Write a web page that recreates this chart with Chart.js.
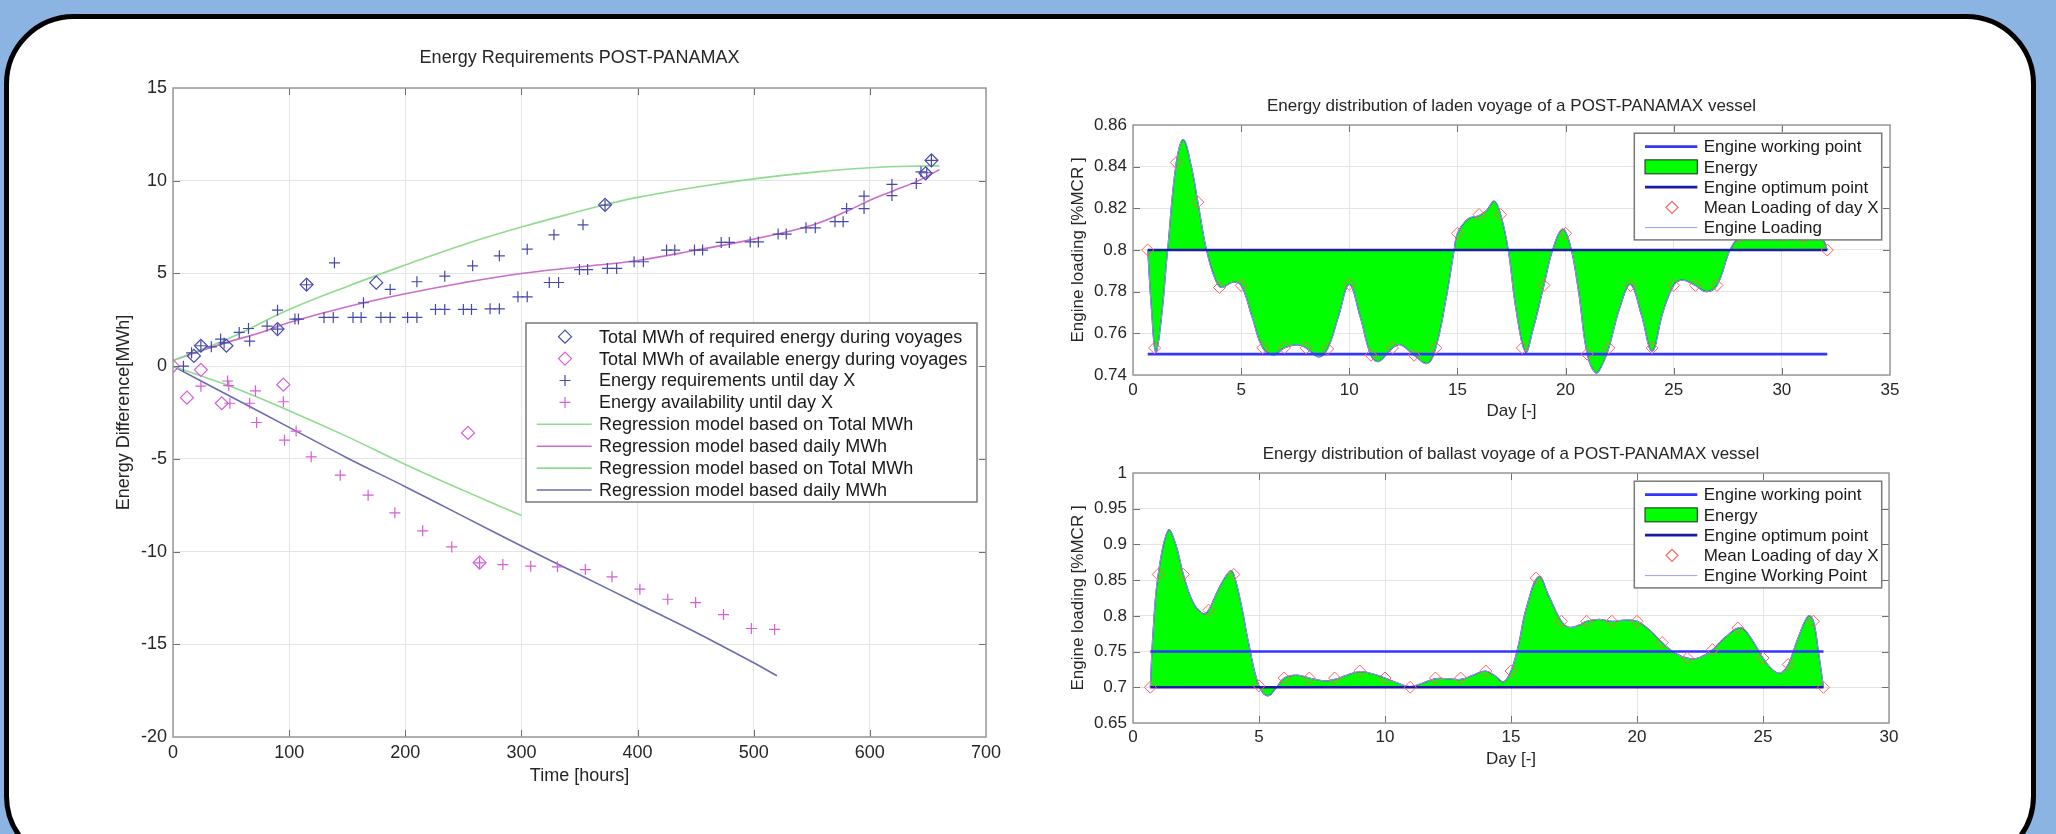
<!DOCTYPE html>
<html>
<head>
<meta charset="utf-8">
<script src="https://cdn.jsdelivr.net/npm/chart.js@4.4.1/dist/chart.umd.min.js"></script>
<style>
html, body { margin: 0; padding: 0; }
body { width: 2056px; height: 834px; background: #8cb4e2; overflow: hidden; position: relative; }
#panel { position: absolute; left: 4px; top: 14px; width: 2032px; height: 852px; box-sizing: border-box;
         border: 5px solid #000; border-radius: 70px; background: #fff; }
canvas { position: absolute; }
#energy { left: 60px; top: 30px; }
#laden { left: 1020px; top: 80px; }
#ballast { left: 1020px; top: 430px; }
</style>
</head>
<body>
<div id="panel"></div>
<canvas id="energy" width="1039" height="790"></canvas>
<canvas id="laden" width="930" height="350"></canvas>
<canvas id="ballast" width="930" height="340"></canvas>
<script>
// ---------- left chart: Energy Requirements POST-PANAMAX ----------
var reqTotalHours = [18, 24, 46, 90, 115, 175, 372, 648, 653];
var reqTotalMWh   = [0.55, 1.1, 1.1, 2.0, 4.4, 4.5, 8.7, 10.4, 11.1];

var availTotalHours = [0, 12, 24, 42, 95, 254, 264];
var availTotalMWh   = [0, -1.7, -0.2, -2.0, -1.0, -3.6, -10.6];

var reqDailyHours = [9, 16, 24, 33, 41, 44, 57, 65, 66, 81, 90, 90, 105, 108, 115, 130, 138, 139, 155, 162, 164,
  179, 187, 187, 202, 210, 210, 226, 234, 234, 250, 257, 258, 273, 281, 281, 297, 305, 305, 324, 328, 332,
  350, 353, 357, 372, 374, 382, 397, 405, 425, 432, 449, 456, 472, 479, 497, 504, 521, 528, 545, 553,
  570, 577, 580, 595, 595, 619, 619, 640, 644, 649, 653];
var reqDailyMWh = [0.0, 0.72, 1.1, 1.04, 1.46, 1.25, 1.82, 2.03, 1.35, 2.16, 3.02, 2.0, 2.54, 2.54, 4.39, 2.63, 2.63, 5.57, 2.63, 2.63, 3.42,
  2.63, 2.63, 4.14, 2.63, 2.63, 4.55, 3.06, 3.06, 4.85, 3.06, 3.06, 5.41, 3.09, 3.09, 5.95, 3.74, 3.74, 6.31, 4.51, 7.08, 4.51,
  5.21, 7.62, 5.21, 8.68, 5.27, 5.27, 5.63, 5.63, 6.26, 6.26, 6.26, 6.26, 6.67, 6.67, 6.7, 6.7, 7.12, 7.12, 7.46, 7.46,
  7.79, 7.79, 8.5, 8.5, 9.17, 9.2, 9.8, 9.85, 10.48, 10.43, 11.1];

var availDailyHours = [24, 47, 48, 49, 66, 71, 72, 95, 96, 106, 119, 144, 168, 191, 215, 240, 264, 284, 308,
  331, 355, 378, 402, 426, 450, 474, 498, 518];
var availDailyMWh = [-1.08, -0.8, -1.05, -2.0, -2.0, -1.33, -3.04, -1.92, -3.99, -3.5, -4.89, -5.88, -6.96, -7.91,
  -8.88, -9.75, -10.61, -10.7, -10.79, -10.82, -10.97, -11.36, -12.03, -12.57, -12.75, -13.4, -14.15, -14.2];

var regTotalUpHours = [0, 50, 100, 150, 200, 250, 300, 350, 372, 400, 450, 500, 550, 600, 650, 660];
var regTotalUpMWh   = [0.3, 1.55, 3.05, 4.3, 5.45, 6.55, 7.5, 8.35, 8.7, 9.1, 9.65, 10.1, 10.45, 10.7, 10.8, 10.8];

var regDailyUpHours = [0, 25, 50, 75, 100, 150, 200, 250, 300, 350, 400, 450, 500, 550, 580, 600, 620, 640, 660];
var regDailyUpMWh   = [0.3, 0.85, 1.35, 1.8, 2.35, 3.2, 3.9, 4.5, 5.0, 5.35, 5.7, 6.25, 6.85, 7.6, 8.35, 8.95, 9.45, 9.95, 10.6];

var regTotalDownHours = [0, 25, 50, 100, 150, 200, 250, 300];
var regTotalDownMWh   = [0, -0.55, -1.1, -2.4, -3.8, -5.3, -6.7, -8.05];

var regDailyDownHours = [0, 50, 100, 150, 200, 250, 300, 350, 400, 450, 500, 520];
var regDailyDownMWh   = [0, -1.65, -3.3, -4.95, -6.5, -8.1, -9.7, -11.25, -12.8, -14.35, -16.0, -16.7];

var energyXTicks = [0, 100, 200, 300, 400, 500, 600, 700];
var energyYTicks = [-20, -15, -10, -5, 0, 5, 10, 15];

// ---------- top right: laden voyage ----------
var ladenDays = [0.68, 1, 2, 3, 4, 5, 6, 7, 8, 9, 10, 11, 12, 13, 14, 15, 16, 17, 18, 19, 20,
  21, 22, 23, 24, 25, 26, 27, 28, 29, 30, 31, 32.1];
var ladenMean = [0.800, 0.753, 0.842, 0.823, 0.782, 0.783, 0.753, 0.753, 0.753, 0.7525, 0.7835, 0.7495, 0.753,
  0.7495, 0.753, 0.808, 0.817, 0.817, 0.753, 0.783, 0.808, 0.750, 0.753, 0.783, 0.753, 0.783, 0.783, 0.783,
  0.806, 0.810, 0.807, 0.806, 0.800];
var ladenCurveDays = [0.68, 0.85, 1.05, 1.3, 1.6, 2.0, 2.33, 2.7, 3.0, 3.4, 3.8, 4.1, 4.6, 5.0, 5.5, 6.0, 6.5,
  7.0, 7.6, 8.0, 8.6, 9.0, 9.5, 10.0, 10.5, 11.0, 11.35, 12.0, 12.35, 13.0, 13.6, 14.0, 14.5, 14.85, 15.0,
  15.5, 16.0, 16.35, 16.7, 17.0, 17.35, 17.7, 18.15, 18.5, 19.0, 19.4, 19.85, 20.2, 20.6, 21.0, 21.4, 21.7,
  22.0, 22.5, 23.0, 23.5, 24.0, 24.5, 25.0, 25.4, 26.0, 26.5, 27.0, 27.6, 28.0, 28.5, 29.0, 29.5, 30.0,
  30.5, 31.0, 31.6, 31.9, 32.1];
var ladenCurve = [0.800, 0.772, 0.751, 0.766, 0.800, 0.842, 0.853, 0.840, 0.823, 0.800, 0.786, 0.782, 0.7845,
  0.783, 0.768, 0.753, 0.7497, 0.753, 0.7545, 0.753, 0.7487, 0.7526, 0.768, 0.7835, 0.768, 0.7495, 0.7465,
  0.753, 0.7545, 0.7495, 0.7455, 0.753, 0.778, 0.800, 0.808, 0.815, 0.8165, 0.819, 0.8235, 0.817, 0.800,
  0.772, 0.751, 0.762, 0.783, 0.800, 0.810, 0.803, 0.780, 0.750, 0.741, 0.745, 0.753, 0.772, 0.7835, 0.769,
  0.7515, 0.770, 0.783, 0.7855, 0.783, 0.780, 0.783, 0.800, 0.806, 0.809, 0.810, 0.809, 0.807, 0.806, 0.806,
  0.806, 0.805, 0.800];
var ladenWorking = 0.75;
var ladenOptimum = 0.80;
var ladenXTicks = [0, 5, 10, 15, 20, 25, 30, 35];
var ladenYTicks = [0.74, 0.76, 0.78, 0.80, 0.82, 0.84, 0.86];

// ---------- bottom right: ballast voyage ----------
var ballastDays = [0.686, 1, 2, 3, 4, 5, 6, 7, 8, 9, 10, 11, 12, 13, 14, 15, 16, 17, 18, 19, 20,
  21, 22, 23, 24, 25, 26, 27, 27.4];
var ballastMean = [0.700, 0.858, 0.858, 0.808, 0.858, 0.702, 0.713, 0.713, 0.713, 0.7228, 0.713, 0.700, 0.713,
  0.713, 0.7228, 0.7228, 0.853, 0.7924, 0.7924, 0.7924, 0.7924, 0.7626, 0.741, 0.7527, 0.783, 0.741, 0.7318,
  0.7924, 0.700];
var ballastCurveDays = [0.686, 0.8, 1.0, 1.4, 1.7, 2.0, 2.4, 2.8, 3.0, 3.4, 3.85, 4.0, 4.3, 4.6, 5.0, 5.35, 5.7,
  6.0, 6.5, 7.0, 7.6, 8.0, 8.5, 9.0, 9.5, 10.0, 10.5, 11.0, 11.5, 12.0, 12.5, 13.0, 13.5, 14.0, 14.4, 14.7,
  15.0, 15.3, 15.6, 16.1, 16.5, 17.0, 17.3, 17.7, 18.0, 18.5, 19.0, 19.5, 20.0, 20.5, 21.0, 21.5, 22.1, 22.5,
  23.0, 23.5, 24.1, 24.5, 25.0, 25.4, 25.7, 26.0, 26.4, 26.8, 27.0, 27.2, 27.4];
var ballastCurve = [0.700, 0.780, 0.858, 0.920, 0.900, 0.858, 0.818, 0.803, 0.808, 0.838, 0.863, 0.858, 0.815,
  0.760, 0.702, 0.688, 0.700, 0.713, 0.717, 0.713, 0.709, 0.711, 0.717, 0.722, 0.719, 0.713, 0.706, 0.701,
  0.706, 0.712, 0.712, 0.711, 0.717, 0.7228, 0.715, 0.7074, 0.7228, 0.760, 0.810, 0.855, 0.828, 0.7924,
  0.784, 0.787, 0.7924, 0.795, 0.7924, 0.794, 0.7924, 0.780, 0.7626, 0.748, 0.740, 0.742, 0.7527, 0.770,
  0.7835, 0.770, 0.741, 0.724, 0.720, 0.7318, 0.770, 0.800, 0.7924, 0.750, 0.700];
var ballastWorking = 0.75;
var ballastOptimum = 0.70;
var ballastXTicks = [0, 5, 10, 15, 20, 25, 30];
var ballastYTicks = [0.65, 0.70, 0.75, 0.80, 0.85, 0.90, 0.95, 1.00];

var FONT = '"Liberation Sans", Arial, Helvetica, sans-serif';
Chart.defaults.font.family = FONT;
Chart.defaults.color = '#262626';

function pts(xs, ys) {
    var out = [];
    for (var i = 0; i < xs.length; i++) out.push({ x: xs[i], y: ys[i] });
    return out;
}

function fmt(v) { return String(+v.toFixed(2)); }

// small legend marker drawing
function drawMarker(ctx, style, x, y, r, color, lw) {
    ctx.save();
    ctx.strokeStyle = color;
    ctx.lineWidth = lw;
    ctx.beginPath();
    if (style === 'cross') {
        ctx.moveTo(x - r, y); ctx.lineTo(x + r, y);
        ctx.moveTo(x, y - r); ctx.lineTo(x, y + r);
    } else {
        ctx.moveTo(x, y - r); ctx.lineTo(x + r, y);
        ctx.lineTo(x, y + r); ctx.lineTo(x - r, y);
        ctx.closePath();
    }
    ctx.stroke();
    ctx.restore();
}

// boxed legend inside the plot, like matlab
var boxLegend = {
    id: 'boxLegend',
    afterDraw: function(chart, args, o) {
        var a = chart.chartArea, ctx = chart.ctx;
        var x0 = a.left + o.dx, y0 = a.top + o.dy;
        ctx.save();
        ctx.fillStyle = '#fff';
        ctx.fillRect(x0, y0, o.w, o.h);
        ctx.strokeStyle = '#7a7a7a';
        ctx.lineWidth = 1.5;
        ctx.strokeRect(x0, y0, o.w, o.h);
        ctx.font = o.size + 'px ' + FONT;
        ctx.textBaseline = 'middle';
        chart.data.datasets.forEach(function(ds, i) {
            var cy = y0 + o.rowTop + i * o.rowH;
            if (ds.legendSymbol === 'point') {
                drawMarker(ctx, ds.pointStyle, x0 + o.markX, cy, ds.pointRadius, ds.borderColor, 1.2);
            } else if (ds.legendSymbol === 'fill') {
                ctx.fillStyle = ds.backgroundColor;
                ctx.fillRect(x0 + o.lineX0, cy - 7, o.lineX1 - o.lineX0, 14);
                ctx.strokeStyle = '#222';
                ctx.lineWidth = 1;
                ctx.strokeRect(x0 + o.lineX0, cy - 7, o.lineX1 - o.lineX0, 14);
            } else {
                ctx.strokeStyle = ds.borderColor;
                ctx.lineWidth = ds.borderWidth;
                ctx.beginPath();
                ctx.moveTo(x0 + o.lineX0, cy);
                ctx.lineTo(x0 + o.lineX1, cy);
                ctx.stroke();
            }
            ctx.fillStyle = '#1a1a1a';
            ctx.fillText(ds.label, x0 + o.textX, cy + 1);
        });
        ctx.restore();
    }
};

// gray box round the plot with inward ticks
var plotBox = {
    id: 'plotBox',
    afterDatasetsDraw: function(chart) {
        var a = chart.chartArea, ctx = chart.ctx;
        var sx = chart.scales.x, sy = chart.scales.y;
        ctx.save();
        ctx.strokeStyle = '#707070';
        ctx.lineWidth = 1;
        ctx.beginPath();
        sx.ticks.forEach(function(t) {
            var px = Math.round(sx.getPixelForValue(t.value)) + 0.5;
            if (px < a.left + 2 || px > a.right - 2) return;
            ctx.moveTo(px, a.bottom); ctx.lineTo(px, a.bottom - 7);
            ctx.moveTo(px, a.top); ctx.lineTo(px, a.top + 7);
        });
        sy.ticks.forEach(function(t) {
            var py = Math.round(sy.getPixelForValue(t.value)) + 0.5;
            if (py < a.top + 2 || py > a.bottom - 2) return;
            ctx.moveTo(a.left, py); ctx.lineTo(a.left + 7, py);
            ctx.moveTo(a.right, py); ctx.lineTo(a.right - 7, py);
        });
        ctx.stroke();
        ctx.strokeStyle = '#999';
        ctx.lineWidth = 1.5;
        ctx.strokeRect(a.left, a.top, a.right - a.left, a.bottom - a.top);
        ctx.restore();
    }
};

function axis(tickList, min, max, fontSize, titleText, titlePad, tickPad, fitSize, horizontal) {
    return {
        type: 'linear',
        min: min,
        max: max,
        afterBuildTicks: function(s) { s.ticks = tickList.map(function(v) { return { value: v }; }); },
        afterFit: function(s) { if (horizontal) s.height = fitSize; else s.width = fitSize; },
        ticks: { font: { size: fontSize }, padding: tickPad, maxRotation: 0, autoSkip: false, callback: fmt },
        grid: { color: '#e4e4e4', lineWidth: 1, drawTicks: false },
        border: { display: false },
        title: { display: true, text: titleText, font: { size: fontSize }, padding: titlePad }
    };
}

// ---------- left chart ----------
var reqBlue = '#4848aa';
var availPink = '#d85cd8';

new Chart(document.getElementById('energy'), {
    type: 'line',
    data: {
        datasets: [
            { label: 'Total MWh of required energy during voyages', data: pts(reqTotalHours, reqTotalMWh),
              showLine: false, pointStyle: 'rectRot', pointRadius: 6.5, borderColor: reqBlue,
              backgroundColor: 'rgba(0,0,0,0)', pointBorderWidth: 1.2, legendSymbol: 'point' },
            { label: 'Total MWh of available energy during voyages', data: pts(availTotalHours, availTotalMWh),
              showLine: false, pointStyle: 'rectRot', pointRadius: 6.5, borderColor: availPink,
              backgroundColor: 'rgba(0,0,0,0)', pointBorderWidth: 1.2, legendSymbol: 'point' },
            { label: 'Energy requirements until day X', data: pts(reqDailyHours, reqDailyMWh),
              showLine: false, pointStyle: 'cross', pointRadius: 5.5, borderColor: reqBlue,
              pointBorderWidth: 1.2, legendSymbol: 'point' },
            { label: 'Energy availability until day X', data: pts(availDailyHours, availDailyMWh),
              showLine: false, pointStyle: 'cross', pointRadius: 5.5, borderColor: availPink,
              pointBorderWidth: 1.2, legendSymbol: 'point' },
            { label: 'Regression model based on Total MWh', data: pts(regTotalUpHours, regTotalUpMWh),
              borderColor: '#8fdc8f', borderWidth: 1.6, pointRadius: 0, tension: 0.4, legendSymbol: 'line' },
            { label: 'Regression model based daily MWh', data: pts(regDailyUpHours, regDailyUpMWh),
              borderColor: '#cc6ccc', borderWidth: 1.6, pointRadius: 0, tension: 0.4, legendSymbol: 'line' },
            { label: 'Regression model based on Total MWh', data: pts(regTotalDownHours, regTotalDownMWh),
              borderColor: '#8fdc8f', borderWidth: 1.6, pointRadius: 0, tension: 0.4, legendSymbol: 'line' },
            { label: 'Regression model based daily MWh', data: pts(regDailyDownHours, regDailyDownMWh),
              borderColor: '#6c6cb2', borderWidth: 1.6, pointRadius: 0, tension: 0.4, legendSymbol: 'line' }
        ]
    },
    options: {
        responsive: false,
        animation: false,
        layout: { padding: { left: 0, right: 113, top: 0, bottom: 0 } },
        scales: {
            x: axis(energyXTicks, 0, 700, 18, 'Time [hours]', { top: 0, bottom: 33 }, 5, 83, true),
            y: axis(energyYTicks, -20, 15, 18, 'Energy Difference[MWh]', { top: 53, bottom: 0 }, 6, 113, false)
        },
        plugins: {
            legend: { display: false },
            tooltip: { enabled: false },
            title: { display: true, text: 'Energy Requirements POST-PANAMAX', fullSize: false,
                     font: { size: 18, weight: 'normal' }, color: '#262626', padding: { top: 17, bottom: 19.4 } },
            boxLegend: { dx: 353, dy: 235, w: 451, h: 179, rowTop: 13.7, rowH: 21.9,
                         lineX0: 10.7, lineX1: 65.7, markX: 39, textX: 73, size: 18 }
        }
    },
    plugins: [plotBox, boxLegend]
});

// ---------- right charts ----------
function voyageChart(id, title, days, mean, curveDays, curve, working, optimum, xTicks, yTicks, yMin, yMax,
                     lastLabel, titlePad, xFit, xTitlePad, xTickPad, padRight) {
    var first = days[0], last = days[days.length - 1];
    return new Chart(document.getElementById(id), {
        type: 'line',
        data: {
            datasets: [
                { label: 'Engine working point', data: pts([first, last], [working, working]),
                  borderColor: '#3434ff', borderWidth: 2.6, pointRadius: 0, order: 1, legendSymbol: 'line' },
                { label: 'Energy', data: pts(curveDays, curve), fill: { value: optimum },
                  backgroundColor: '#00ff00', borderColor: '#2c3aa4', borderWidth: 1.2, pointRadius: 0,
                  tension: 0.4, order: 3, legendSymbol: 'fill' },
                { label: 'Engine optimum point', data: pts([first, last], [optimum, optimum]),
                  borderColor: '#1a1aa8', borderWidth: 2.6, pointRadius: 0, order: 1, legendSymbol: 'line' },
                { label: 'Mean Loading of day X', data: pts(days, mean), showLine: false,
                  pointStyle: 'rectRot', pointRadius: 6, borderColor: '#ff6262', backgroundColor: 'rgba(0,0,0,0)',
                  pointBorderWidth: 1, order: 0, legendSymbol: 'point' },
                { label: lastLabel, data: pts(curveDays, curve), borderColor: '#9d9dff', borderWidth: 1,
                  pointRadius: 0, tension: 0.4, order: 2, legendSymbol: 'line' }
            ]
        },
        options: {
            responsive: false,
            animation: false,
            layout: { padding: { left: 0, right: padRight, top: 0, bottom: 0 } },
            scales: {
                x: axis(xTicks, 0, xTicks[xTicks.length - 1], 17, 'Day [-]', { top: 0, bottom: xTitlePad }, xTickPad, xFit, true),
                y: axis(yTicks, yMin, yMax, 17, 'Engine loading [%MCR ]', { top: 47.8, bottom: 0 }, 6, 113, false)
            },
            plugins: {
                legend: { display: false },
                tooltip: { enabled: false },
                title: { display: true, text: title, fullSize: false, font: { size: 17, weight: 'normal' },
                         color: '#262626', padding: titlePad },
                boxLegend: { dx: 501.3, dy: 8.2, w: 247.4, h: 106.7, rowTop: 13.4, rowH: 20.25,
                             lineX0: 10.7, lineX1: 63, markX: 37.7, textX: 69.4, size: 17 }
            }
        },
        plugins: [plotBox, boxLegend]
    });
}

voyageChart('laden', 'Energy distribution of laden voyage of a POST-PANAMAX vessel',
    ladenDays, ladenMean, ladenCurveDays, ladenCurve, ladenWorking, ladenOptimum,
    ladenXTicks, ladenYTicks, 0.74, 0.86, 'Engine Loading',
    { top: 15.8, bottom: 8.8 }, 55, 8.1, 4.8, 60);

voyageChart('ballast', 'Energy distribution of ballast voyage of a POST-PANAMAX vessel',
    ballastDays, ballastMean, ballastCurveDays, ballastCurve, ballastWorking, ballastOptimum,
    ballastXTicks, ballastYTicks, 0.65, 1.0, 'Engine Working Point',
    { top: 13.8, bottom: 8.8 }, 47, 0.5, 3.8, 61);
</script>
</body>
</html>
